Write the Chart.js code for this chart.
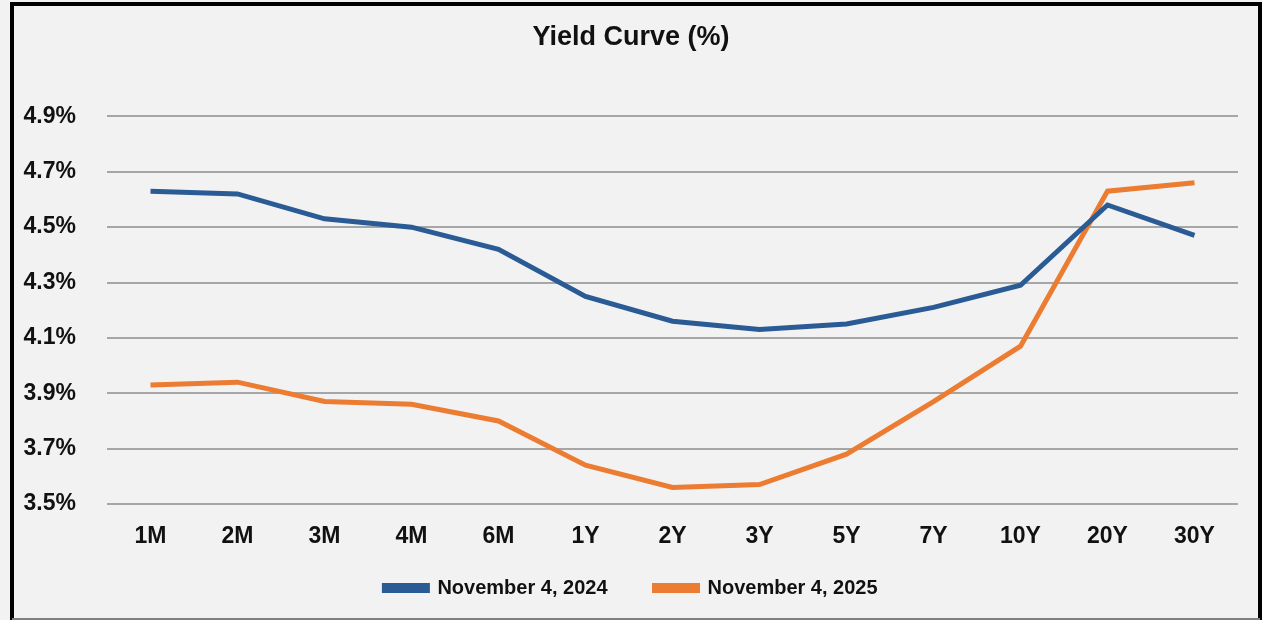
<!DOCTYPE html>
<html>
<head>
<meta charset="utf-8">
<script src="https://cdn.jsdelivr.net/npm/chart.js@4"></script>
<style>
  html, body { margin: 0; padding: 0; background: #f2f2f2; }
  #wrap { width: 1262px; height: 620px; }
</style>
</head>
<body>
<div id="wrap"><canvas id="myChart" width="1262" height="620"></canvas></div>
<script>
const tenors = ['1M', '2M', '3M', '4M', '6M', '1Y', '2Y', '3Y', '5Y', '7Y', '10Y', '20Y', '30Y'];
const nov2024 = [4.63, 4.62, 4.53, 4.50, 4.42, 4.25, 4.16, 4.13, 4.15, 4.21, 4.29, 4.58, 4.47];
const nov2025 = [3.93, 3.94, 3.87, 3.86, 3.80, 3.64, 3.56, 3.57, 3.68, 3.87, 4.07, 4.63, 4.66];
const yTicks = [3.5, 3.7, 3.9, 4.1, 4.3, 4.5, 4.7, 4.9];

const font = '"Liberation Sans", Arial, sans-serif';

// background + frame like the excel export, and nudge the legend up
const frame = {
  id: 'frame',
  afterLayout(chart) {
    const lg = chart.legend;
    const h = lg.bottom - lg.top;
    lg.top = 531;
    lg.bottom = 531 + h;
  },
  beforeDraw(chart) {
    const c = chart.ctx;
    c.save();
    c.fillStyle = '#f2f2f2';
    c.fillRect(0, 0, chart.width, chart.height);
    c.strokeStyle = '#000';
    c.lineWidth = 4;
    c.beginPath();
    c.moveTo(12, 640);
    c.lineTo(12, 4);
    c.lineTo(1260, 4);
    c.lineTo(1260, 640);
    c.stroke();
    c.strokeStyle = '#7f7f7f';
    c.lineWidth = 2;
    c.beginPath();
    c.moveTo(12, 619);
    c.lineTo(1260, 619);
    c.stroke();
    c.restore();
  }
};

const ctx = document.getElementById('myChart');

new Chart(ctx, {
  type: 'line',
  data: {
    labels: tenors,
    datasets: [{
      label: 'November 4, 2024',
      data: nov2024,
      borderColor: '#2b5b95',
      backgroundColor: '#2b5b95',
      borderWidth: 5,
      pointRadius: 0,
      tension: 0
    }, {
      label: 'November 4, 2025',
      data: nov2025,
      borderColor: '#ec7c31',
      backgroundColor: '#ec7c31',
      borderWidth: 5,
      pointRadius: 0,
      tension: 0
    }]
  },
  plugins: [frame],
  options: {
    responsive: false,
    animation: false,
    layout: { padding: 0 },
    plugins: {
      title: {
        display: true,
        text: 'Yield Curve (%)',
        color: '#111',
        font: { family: font, size: 27, weight: 'bold' },
        padding: { top: 21, bottom: 63 }
      },
      legend: {
        position: 'bottom',
        maxHeight: 66,
        labels: {
          color: '#111',
          font: { family: font, size: 20, weight: 'bold' },
          boxWidth: 43,
          boxHeight: 5,
          padding: 47
        }
      },
      tooltip: { enabled: false }
    },
    scales: {
      x: {
        offset: true,
        grid: { display: false, drawTicks: false },
        border: { display: false },
        ticks: {
          color: '#111',
          font: { family: font, size: 23, weight: 'bold' },
          padding: 19,
          maxRotation: 0
        },
        afterFit(scale) { scale.height = 50; }
      },
      y: {
        min: 3.5,
        max: 4.9,
        grid: { color: '#a6a6a6', lineWidth: 2, drawTicks: false },
        border: { display: false },
        afterBuildTicks(scale) { scale.ticks = yTicks.map(v => ({ value: v })); },
        ticks: {
          color: '#111',
          font: { family: font, size: 23, weight: 'bold' },
          padding: 31,
          callback: v => v.toFixed(1) + '%'
        },
        afterFit(scale) { scale.width = 107; }
      },
      // empty right axis, only keeps the plot away from the frame
      y2: {
        position: 'right',
        grid: { display: false, drawTicks: false },
        border: { display: false },
        ticks: { display: false },
        afterFit(scale) { scale.width = 24; }
      }
    }
  }
});
</script>
</body>
</html>
